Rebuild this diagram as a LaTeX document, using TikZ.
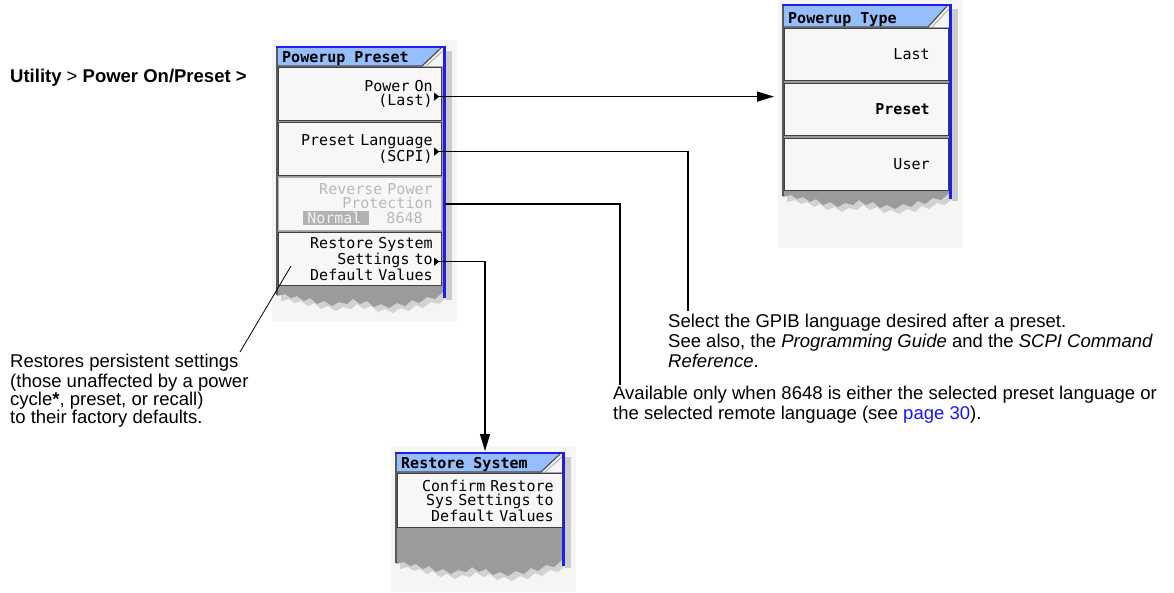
\documentclass[tikz,border=0pt]{standalone}
\usepackage{fontspec}
\setmainfont{Liberation Sans}
\newfontfamily\pantalla[WordSpace={1,0,0}]{DejaVu Sans Mono}
\usepackage{tikz}
\usetikzlibrary{arrows.meta}
\definecolor{azulT}{RGB}{150,190,250}
\definecolor{azulB}{RGB}{30,30,235}
\definecolor{fondo}{RGB}{245,245,245}
\definecolor{gris}{RGB}{155,155,155}
\definecolor{enlace}{RGB}{20,20,255}
\tikzstyle{boton} = [draw=black!75, line width=1.2pt, fill=white!97!black, anchor=north west, align=right, minimum height=53pt, font=\pantalla\fontsize{15}{14.5}\selectfont]
\tikzstyle{botonoff} = [boton, draw=gray!65, text=gray!55]
\tikzstyle{titulo} = [anchor=base west, inner sep=0pt, font=\pantalla\bfseries\fontsize{15}{14.5}\selectfont]
\tikzstyle{nota} = [anchor=north west, align=left, inner sep=0pt, font=\fontsize{18.5}{20}\selectfont]
\tikzstyle{linea} = [line width=1.3pt]
\tikzstyle{flecha} = [linea, -{Triangle[length=17pt,width=10pt]}]
\newcommand{\rotura}{166/0, 158/7, 150/5, 142/11, 135/8, 128/14, 120/11, 112/16, 104/12, 97/15, 90/9, 83/12, 76/7, 70/12, 62/10, 55/14, 47/9, 40/12, 33/6, 27/9, 20/4, 14/6, 8/2, 0/4}
\newcommand{\cajaNormal}{{\fboxsep=1pt\colorbox{gray!60}{\hspace{3pt}\textcolor{white!95!black}{Normal}\hspace{7pt}}}\hspace{17pt}8648\rule{10pt}{0pt}}
\begin{document}
\begin{tikzpicture}[x=1pt,y=-1pt]
	\useasboundingbox (0,0) rectangle (1174,592);
	% marcos de las pantallas
	\foreach \Xc/\Yc/\Yb/\Yr/\Yf in {277/47/66/292/322, 783/5/27/193/248, 396/453/472/560/592}
	{
		\fill[fondo] (\Xc-5,\Yc-7) rectangle (\Xc+180,\Yf);
		\fill[gray!40] (\Xc+169,\Yc+4) rectangle (\Xc+175,\Yr+8);
		\fill[gray!35] (\Xc+4,\Yr-4) -- (\Xc+170,\Yr-4)
			\foreach \dx/\dy in \rotura { -- (\Xc+\dx+4,\Yr+\dy+5) } -- cycle;
		\fill[gris] (\Xc,\Yb) -- (\Xc+166,\Yb)
			\foreach \dx/\dy in \rotura { -- (\Xc+\dx,\Yr+\dy) } -- cycle;
		\fill[azulT] (\Xc,\Yc) -- (\Xc+164,\Yc) -- (\Xc+145,\Yb) -- (\Xc,\Yb) -- cycle;
		\fill[white!96!black] (\Xc+164,\Yc) -- (\Xc+166,\Yc) -- (\Xc+166,\Yb) -- (\Xc+145,\Yb) -- cycle;
		\draw[black!70, line width=1.2pt] (\Xc,\Yb) -- (\Xc+145,\Yb) -- (\Xc+164,\Yc+1);
		\draw[gray!70, line width=0.8pt] (\Xc+149,\Yb) -- (\Xc+166,\Yc+4);
		\draw[black!65, line width=1.2pt] (\Xc,\Yc) -- (\Xc,\Yr+3);
		\draw[azulB, line width=3pt] (\Xc+167.5,\Yc-1) -- (\Xc+167.5,\Yr+6);
		\draw[azulB, line width=2pt] (\Xc-0.6,\Yc) -- (\Xc+166,\Yc);
	}
	\node[titulo] (tPreset) at (282,62) {Powerup Preset};
	\node[titulo] (tTipo) at (788,23) {Powerup Type};
	\node[titulo] (tRest) at (401,468) {Restore System};
	% menu de encendido
	\foreach \Yc/\Nombre/\Estilo/\Texto in
	{67/encendido/boton/{Power On\\(Last)}, 122/lenguaje/boton/{Preset Language\\(SCPI)}, 177/inverso/botonoff/{Reverse Power\\Protection\\\cajaNormal}, 232/restaurar/boton/{Restore System\\Settings to\\Default Values}}
	{
		\node[\Estilo, text width=145pt, inner xsep=9pt] (\Nombre) at (278,\Yc) {\Texto};
	}
	\foreach \Yc/\Nombre/\Texto in
	{28/ultimo/Last, 83/preset/{\bfseries Preset}, 138/usuario/User}
	{
		\node[boton, minimum height=52pt, text width=126pt, inner xsep=19pt] (\Nombre) at (784,\Yc) {\Texto};
	}
	\node[boton, minimum height=54pt, text width=147pt, inner xsep=9pt] (confirmar) at (397,473) {Confirm Restore\\Sys Settings to\\Default Values};
	\foreach \Nombre/\Marca in {encendido/mEnc, lenguaje/mLen, restaurar/mRes}
	{
		\coordinate (\Marca) at ([xshift=-3pt,yshift=-2.5pt]\Nombre.east);
		\fill (\Marca) -- ++(-5,-4) -- ++(0,8) -- cycle;
	}
	% textos
	\node[nota, anchor=base west] (ruta) at (10,82) {\textbf{Utility} > \textbf{Power On/Preset >}};
	\node[nota, font=\fontsize{18.5}{18}\selectfont] (notaRes) at (10,354) {\strut Restores persistent settings\\(those unaffected by a power\\cycle\textbf{*}, preset, or recall)\\to their factory defaults.};
	\node[nota] (notaLen) at (668,313) {\strut Select the GPIB language desired after a preset.\\See also, the \textit{Programming Guide} and the \textit{SCPI Command}\\\textit{Reference}.};
	\node[nota] (notaDisp) at (613,385) {\strut Available only when 8648 is either the selected preset language or\\the selected remote language (see \textcolor{enlace}{page 30}).};
	\coordinate (fLen) at ([xshift=20pt,yshift=2pt]notaLen.north west);
	\coordinate (fInv) at ([xshift=7pt]notaDisp.north west);
	\coordinate (fRes) at (485,451);
	\coordinate (d1) at (291,266);
	\coordinate (d2) at (240,352);
	% conectores
	\draw[flecha, shorten >=10pt] (mEnc) -- (mEnc -| preset.west);
	\draw[linea] (mLen) -| (fLen);
	\draw[linea] ([xshift=3pt]inverso.east) -| (fInv);
	\draw[flecha] (mRes) -| (fRes);
	\draw[line width=0.8pt] (d1) -- (d2);
\end{tikzpicture}
\end{document}
